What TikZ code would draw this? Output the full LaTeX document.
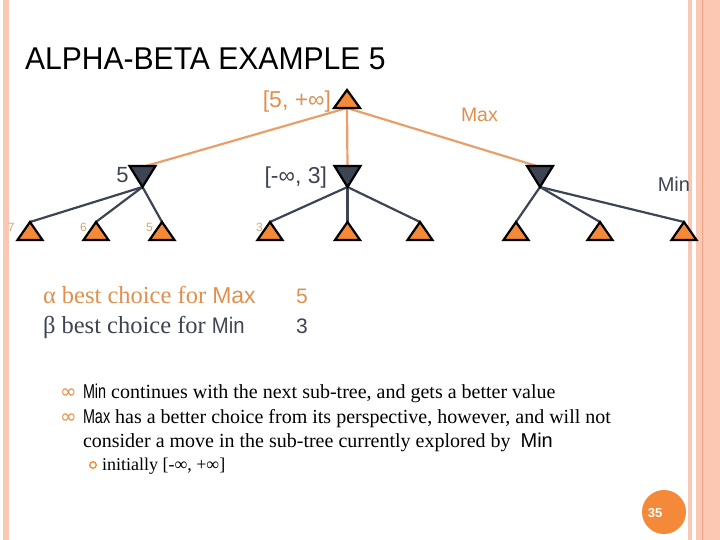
\documentclass[tikz,border=0pt]{standalone}
\usepackage{fontspec}
\usetikzlibrary{calc}
\setmainfont{Liberation Serif}
\setsansfont{Liberation Sans}
\newfontfamily\titlefont[FakeStretch=0.955]{Liberation Sans}
\newfontfamily\nsans[FakeStretch=0.72]{Liberation Sans}
\newfontfamily\msans[FakeStretch=0.9]{Liberation Sans}
\newfontfamily\dvs{DejaVu Sans}
\definecolor{orangefill}{HTML}{F5893A}
\definecolor{rootedge}{HTML}{E8A06A}
\definecolor{orangetext}{HTML}{E0904E}
\definecolor{darkfill}{HTML}{3D4555}
\definecolor{darktext}{HTML}{3F4452}
\definecolor{leaflab}{HTML}{D4A77A}
\definecolor{barcol}{HTML}{F9C7B4}
\definecolor{bandcol}{HTML}{FDC8B3}
\definecolor{bandline}{HTML}{EFA585}
\newcommand\fsz[1]{\fontsize{#1}{#1}\selectfont}
\begin{document}
\begin{tikzpicture}[x=1pt,y=-1pt,
  txt/.style={inner sep=0pt, outer sep=0pt},
  edgeO/.style={draw=rootedge, line width=2.2pt},
  edgeD/.style={draw=darkfill, line width=2.2pt},
  maxtri/.style={fill=orangefill, draw=black, line width=2.2pt, line join=miter},
  mintri/.style={fill=darkfill, draw=black, line width=2.2pt, line join=miter},
  leaflabel/.style={txt, anchor=base west, text=leaflab, font=\sffamily\fsz{12}},
  bullettext/.style={txt, anchor=base west, text=black, font=\fsz{20}}]
\useasboundingbox (0,0) rectangle (720,540);
\fill[white] (0,0) rectangle (720,540);
% borders
\fill[barcol] (3,0) rectangle (9,540);
\fill[barcol] (688,0) rectangle (692,540);
\fill[bandcol] (696,0) rectangle (720,540);
\fill[bandline] (701.8,0) rectangle (702.9,540);
% title
\node[txt, anchor=base west, font=\titlefont\fsz{31.5}] (title) at (25,70) {ALPHA-BETA EXAMPLE 5};
% tree coordinates
\coordinate (r) at (347,108);
\coordinate (m1) at (142.5,187);
\coordinate (m2) at (347.5,187);
\coordinate (m3) at (540,187);
\coordinate (l1) at (30,222);
\coordinate (l2) at (96,222);
\coordinate (l3) at (162,222);
\coordinate (l4) at (270,222);
\coordinate (l5) at (347.5,222);
\coordinate (l6) at (420,222);
\coordinate (l7) at (516,222);
\coordinate (l8) at (600,222);
\coordinate (l9) at (684,222);
% edges
\foreach \m in {m1,m2,m3} \draw[edgeO] (r) -- ($(\m)+(0,-20)$);
\foreach \l in {l1,l2,l3} \draw[edgeD] (m1) -- (\l);
\foreach \l in {l4,l5,l6} \draw[edgeD] (m2) -- (\l);
\foreach \l in {l7,l8,l9} \draw[edgeD] (m3) -- (\l);
% triangles
\filldraw[maxtri] (r) ++(0,-18) -- ++(13,18) -- ++(-26,0) -- cycle;
\foreach \m in {m1,m2,m3} \filldraw[mintri] (\m) -- ++(13,-21) -- ++(-26,0) -- cycle;
\foreach \l in {l1,l2,l3,l4,l5,l6,l7,l8,l9} \filldraw[maxtri] (\l) -- ++(12.5,18) -- ++(-25,0) -- cycle;
% tree labels
\node[txt, anchor=base east, text=orangetext, font=\sffamily\fsz{23}] (rl) at (331,108) {[5, +∞]};
\node[txt, anchor=base west, text=orangetext, font=\sffamily\fsz{19.5}] (maxl) at (461,122) {Max};
\node[txt, anchor=base east, text=darktext, font=\sffamily\fsz{22}] (m1l) at (128.5,183) {5};
\node[txt, anchor=base east, text=darktext, font=\sffamily\fsz{23}] (m2l) at (327,184) {[-∞, 3]};
\node[txt, anchor=base east, text=darktext, font=\sffamily\fsz{20}] (minl) at (690,192) {Min};
\node[leaflabel] (v1) at ($(l1)+(-22,10)$) {7};
\node[leaflabel] (v2) at ($(l2)+(-16,10)$) {6};
\node[leaflabel] (v3) at ($(l3)+(-16,10)$) {5};
\node[leaflabel] (v4) at ($(l4)+(-14,10)$) {3};
% alpha beta
\node[txt, anchor=base west, text=orangetext, font=\fsz{24.5}] (al) at (43,303) {α best choice for {\sffamily\fsz{23}Max}};
\node[txt, anchor=base west, text=darktext, font=\fsz{24.5}] (bl) at (43,333) {β best choice for {\msans\fsz{22.5}Min}};
\node[txt, anchor=base west, text=orangetext, font=\sffamily\fsz{21}] (av) at (296,303) {5};
\node[txt, anchor=base west, text=darktext, font=\sffamily\fsz{21}] (bv) at (296,333) {3};
% bullets
\node[txt, anchor=base west, text=orangefill, font=\dvs\fsz{20}] (g1) at (60,398) {∞};
\node[txt, anchor=base west, text=orangefill, font=\dvs\fsz{20}] (g2) at (60,423) {∞};
\node[bullettext] (b1) at (83,398) {{\nsans Min} continues with the next sub-tree, and gets a better value};
\node[bullettext] (b2) at (83,423) {{\nsans Max} has a better choice from its perspective, however, and will not};
\node[bullettext] (b3) at (83,447) {consider a move in the sub-tree currently explored by\ \ {\sffamily Min}};
\draw[orangefill, line width=1.3pt] (93,465) circle (3.3);
\node[txt, anchor=base west, text=black, font=\fsz{18}] (b4) at (102,470) {initially [-∞, +∞]};
% page number
\fill[orangefill] (664,512) circle (22);
\node[txt, text=white, font=\sffamily\bfseries\fsz{13}] (pg) at (655,513) {35};
\end{tikzpicture}
\end{document}
